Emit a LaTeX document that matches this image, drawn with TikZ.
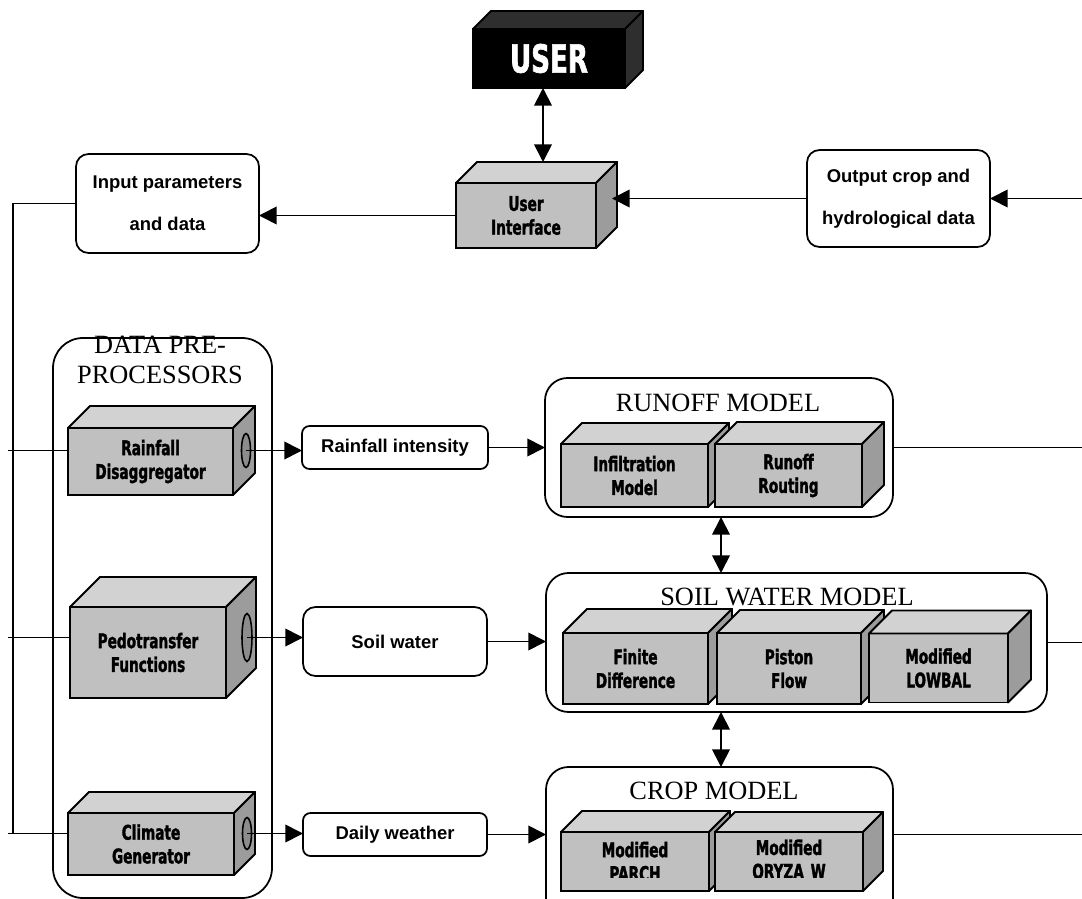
\documentclass[tikz,border=0pt]{standalone}
\usepackage{fontspec}
\setmainfont{Liberation Serif}
\newfontfamily\labelfont{Liberation Sans}
\newfontfamily\blockfont{DejaVu Sans Condensed Bold}[FakeStretch=0.75, FakeBold=1.6]
\usetikzlibrary{arrows.meta, calc, shapes.geometric}

\definecolor{frontgray}{HTML}{C0C0C0}
\definecolor{topgray}{HTML}{D2D2D2}
\definecolor{sidegray}{HTML}{9C9C9C}
\definecolor{holegray}{HTML}{8C8C8C}

% top and side faces of a 3D box drawn on a front node
\newcommand{\cubefaces}[3][]{%
  \filldraw[cubetop, #1] (#2.north west) -- ++(#3,-#3) -- ($(#2.north east)+(#3,-#3)$) -- (#2.north east) -- cycle;
  \filldraw[cubeside, #1] (#2.north east) -- ++(#3,-#3) -- ($(#2.south east)+(#3,-#3)$) -- (#2.south east) -- cycle;
}

\begin{document}
\begin{tikzpicture}[x=0.2mm, y=-0.2mm,
    celltext/.style={align=center, inner sep=0pt, font=\blockfont\fontsize{11.5}{13.5}\selectfont},
    cube/.style 2 args={celltext, draw, fill=frontgray, line width=1.1pt, outer sep=0pt,
        minimum width=#1*0.2mm, minimum height=#2*0.2mm},
    cubetop/.style={draw, fill=topgray, line width=1.1pt, line join=round},
    cubeside/.style={draw, fill=sidegray, line width=1.1pt, line join=round},
    hole/.style 2 args={ellipse, draw, fill=holegray, line width=0.9pt, inner sep=0pt,
        minimum width=#1*0.2mm, minimum height=#2*0.2mm},
    databox/.style 2 args={draw, fill=white, rounded corners=2.5mm, line width=1pt,
        inner sep=0pt, outer sep=0pt, minimum width=#1*0.2mm, minimum height=#2*0.2mm,
        align=center, font=\labelfont\bfseries\fontsize{10.5}{24}\selectfont},
    model/.style 2 args={draw, fill=white, rounded corners=4.5mm, line width=1pt,
        inner sep=0pt, outer sep=0pt, minimum width=#1*0.2mm, minimum height=#2*0.2mm},
    title/.style={align=center, inner sep=0pt, font=\fontsize{15}{17}\selectfont},
    link/.style={line width=1pt},
    arr/.style={link, -{Triangle[length=10pt, width=10pt]}},
    dblarr/.style={link, {Triangle[length=10pt, width=10pt]}-{Triangle[length=10pt, width=10pt]}}
]
\useasboundingbox (0,0) rectangle (1082,899);
\clip (0,0) rectangle (1082,899);

\coordinate (leftx) at (8,0);
\coordinate (vline) at (13,0);
\coordinate (rightx) at (1082,0);
\coordinate (vx) at (721,0);

% user and interface
\node[cube={152}{59}, fill=black, text=white, font=\blockfont\fontsize{22}{22}\selectfont] (user) at (549,58.5) {USER};
\cubefaces[fill=black!82]{user}{18}
\node[cube={140}{65}] (ui) at (526,215.5) {User\\Interface};
\cubefaces{ui}{21}
\coordinate (uitop) at ($(ui.north)+(17,-21)$);
\coordinate (uiback) at ($(ui.east)+(16,0)$);

\node[databox={183}{99}] (inbox) at (167.5,203.5) {Input parameters\\and data};
\node[databox={183}{97}] (outbox) at (898.5,198.5) {Output crop and\\hydrological data};

% data pre-processors
\node[model={219}{560}, rounded corners=6mm] (prep) at (162.5,618) {};
\node[title] (preptitle) at (160,360) {DATA PRE-\\PROCESSORS};

\node[cube={165}{67}] (rain) at (150.5,461.5) {Rainfall\\Disaggregator};
\cubefaces{rain}{22}
\node[hole={9}{34}] (rainhole) at (246,450.5) {};

\node[cube={156}{91}] (pedo) at (148,652.5) {Pedotransfer\\Functions};
\cubefaces{pedo}{30}
\node[hole={10}{48}] (pedohole) at (247,637.5) {};

\node[cube={166}{62}] (clim) at (151,844) {Climate\\Generator};
\cubefaces{clim}{21}
\node[hole={9}{32}] (climhole) at (247,833.5) {};

% data passed on
\node[databox={186}{43}, rounded corners=1.5mm] (rainint) at (395,447.5) {Rainfall intensity};
\node[databox={184}{69}] (soilw) at (395,641.5) {Soil water};
\node[databox={184}{43}, rounded corners=1.5mm] (daily) at (395,834.5) {Daily weather};

% runoff model
\node[model={348}{139}] (runoff) at (719,447.5) {};
\node[title] (runofftitle) at (718,403) {RUNOFF MODEL};
\node[cube={147}{63}] (infil) at (634.5,475.5) {Infiltration\\Model};
\cubefaces{infil}{21}
\node[cube={147}{63}] (routing) at (788.5,475.5) {Runoff\\Routing};
\cubefaces{routing}{22}

% soil water model
\node[model={501}{139}] (soil) at (796.5,642.5) {};
\node[title] (soiltitle) at (787,597) {SOIL WATER MODEL};
\node[cube={145}{71}] (finite) at (635.5,668.5) {Finite\\Difference};
\cubefaces{finite}{24}
\node[cube={144}{71}] (piston) at (789,668.5) {Piston\\Flow};
\cubefaces{piston}{23}
\node[cube={139}{69}] (lowbal) at (938.5,668) {Modified\\LOWBAL};
\cubefaces{lowbal}{23}

% crop model
\node[model={347}{163}] (crop) at (719.5,848.5) {};
\node[title] (croptitle) at (714,791) {CROP MODEL};
\node[cube={148}{59}] (parch) at (635,861.5) {};
\cubefaces{parch}{21}
\node[cube={148}{59}] (oryza) at (789,861.5) {};
\cubefaces{oryza}{20}
\begin{scope}
  \clip (540,760) rectangle (900,877);
  \node[celltext] (parchtext) at (parch) {Modified\\PARCH};
  \node[celltext] (oryzatext) at (oryza) {Modified\\ORYZA\_W};
\end{scope}

% connectors
\draw[dblarr] (user.south -| uitop) -- (uitop);
\draw[arr] (ui.west) -- (ui.west -| inbox.east);
\draw[arr] (outbox.west) -- (outbox.west -| uiback);
\draw[arr] (outbox.east -| rightx) -- (outbox.east);

\draw[link] (inbox.west) -| (vline |- climhole);
\draw[link] (rainhole -| leftx) -- (rainhole -| rain.west);
\draw[link] (pedohole -| leftx) -- (pedohole -| pedo.west);
\draw[link] (climhole -| leftx) -- (climhole -| clim.west);

\draw[arr] (rainhole.center) -- (rainhole -| rainint.west);
\draw[arr] (pedohole.center) -- (pedohole -| soilw.west);
\draw[arr] (climhole.center) -- (climhole -| daily.west);

\draw[arr] (rainint.east) -- (rainint.east -| runoff.west);
\draw[arr] (soilw.east) -- (soilw.east -| soil.west);
\draw[arr] (daily.east) -- (daily.east -| crop.west);

\draw[link] (runoff.east) -- (runoff.east -| rightx);
\draw[link] (soil.east) -- (soil.east -| rightx);
\draw[link] (crop.east |- daily) -- (daily -| rightx);

\draw[dblarr] (runoff.south -| vx) -- (soil.north -| vx);
\draw[dblarr] (soil.south -| vx) -- (crop.north -| vx);

\end{tikzpicture}
\end{document}
